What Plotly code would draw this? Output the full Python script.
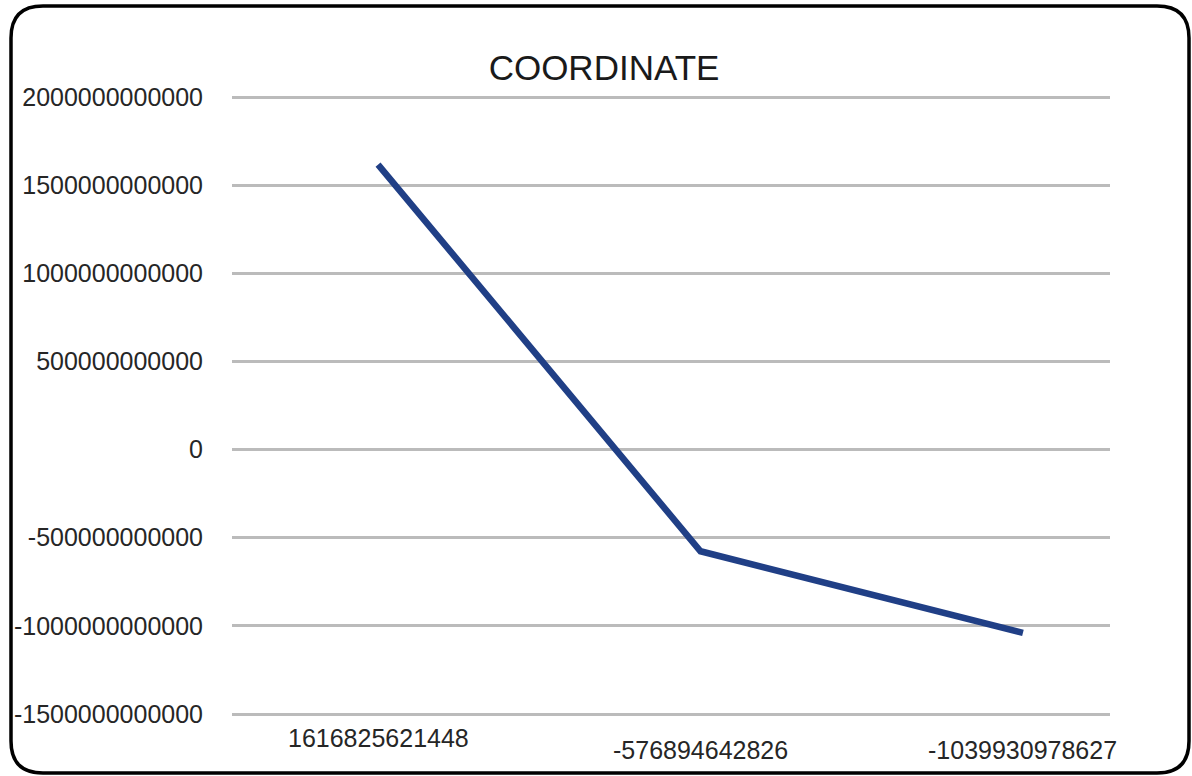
import plotly.graph_objects as go

# ---- data ----
categories = ["1616825621448", "-576894642826", "-1039930978627"]
values = [1616825621448, -576894642826, -1039930978627]
y_tick_vals = [-1.5e12, -1e12, -5e11, 0, 5e11, 1e12, 1.5e12, 2e12]
y_tick_text = ["-1500000000000", "-1000000000000", "-500000000000", "0",
               "500000000000", "1000000000000", "1500000000000", "2000000000000"]
title_text = "COORDINATE"

W, H = 1192, 776
L, R, T, B = 232, 82, 93, 58
PW, PH = W - L - R, H - T - B
PAD_PX = 4
y_lo, y_hi = -1.5e12, 2e12
d = (y_hi - y_lo) * PAD_PX / (PH - 2 * PAD_PX)

FONT = "Liberation Sans, Arial, sans-serif"
TXT = "#262626"

def px(x):
    return (x - L) / PW

def py(y):
    return (H - B - y) / PH

fig = go.Figure()
fig.add_trace(go.Scatter(
    x=categories, y=values, mode="lines",
    line=dict(color="#203F86", width=6.5),
    showlegend=False, hoverinfo="x+y",
))

# staggered category labels
label_y = [738, 750, 750]
for i, (c, ly) in enumerate(zip(categories, label_y)):
    fig.add_annotation(x=i, xref="x", y=py(ly), yref="paper", text=c,
                       showarrow=False, yanchor="middle", xanchor="center",
                       font=dict(family=FONT, size=25, color=TXT))

# rounded border
x0, x1, y0, y1, r = 11, 1189, 6, 773, 32
path = (f"M {px(x0+r)},{py(y0)} L {px(x1-r)},{py(y0)} "
        f"Q {px(x1)},{py(y0)} {px(x1)},{py(y0+r)} "
        f"L {px(x1)},{py(y1-r)} Q {px(x1)},{py(y1)} {px(x1-r)},{py(y1)} "
        f"L {px(x0+r)},{py(y1)} Q {px(x0)},{py(y1)} {px(x0)},{py(y1-r)} "
        f"L {px(x0)},{py(y0+r)} Q {px(x0)},{py(y0)} {px(x0+r)},{py(y0)} Z")
fig.add_shape(type="path", path=path, xref="paper", yref="paper",
              line=dict(color="black", width=3.5), layer="above")

fig.update_layout(
    width=W, height=H,
    margin=dict(l=L, r=R, t=T, b=B, autoexpand=False),
    paper_bgcolor="white", plot_bgcolor="white",
    title=dict(text=title_text, x=604 / W, xref="container", xanchor="center",
               y=1 - 68 / H, yref="container", yanchor="middle",
               font=dict(family=FONT, size=35, color="#1a1a1a")),
    xaxis=dict(type="category", range=[-0.453, 2.27], showgrid=False,
               showticklabels=False, showline=False, zeroline=False, ticks="",
               automargin=False),
    yaxis=dict(range=[y_lo - d, y_hi + d], tickvals=y_tick_vals, ticktext=y_tick_text,
               showgrid=True, gridcolor="#BBBBBB", gridwidth=2.5,
               zeroline=False, showline=False, ticks="", automargin=False,
               ticklabelstandoff=28,
               tickfont=dict(family=FONT, size=25, color=TXT)),
)

fig.write_html("out.html", config={"displayModeBar": False},
               post_script="document.body.style.margin='0';")
